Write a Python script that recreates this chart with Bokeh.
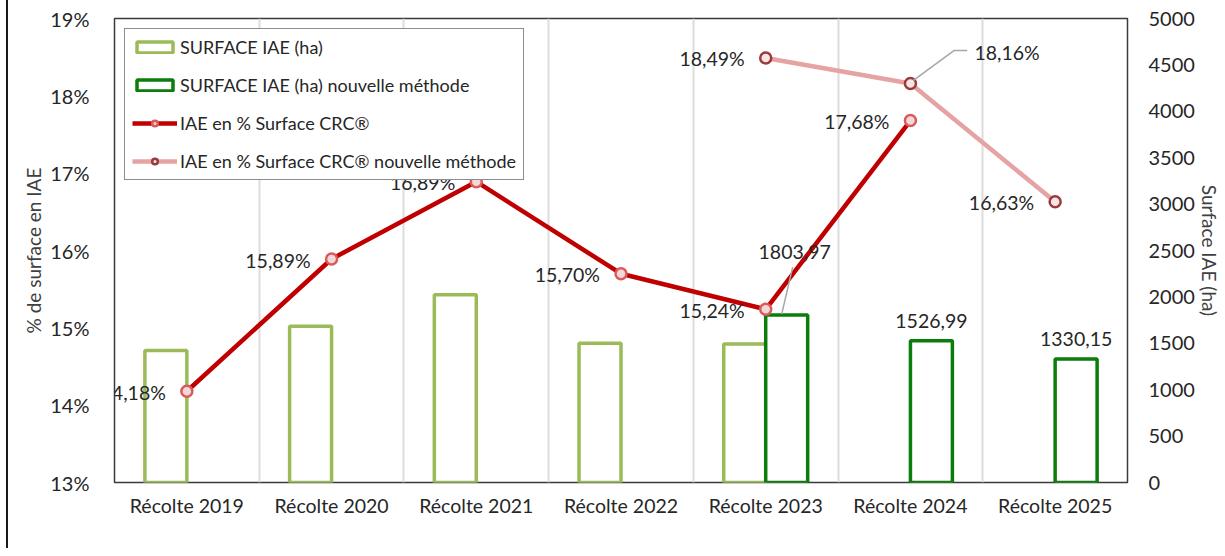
from bokeh.plotting import figure
from bokeh.models import (Range1d, LinearAxis, FixedTicker, NumeralTickFormatter,
                          Legend, LegendItem, ColumnDataSource, Label)
from bokeh.embed import file_html
from bokeh.resources import INLINE

# ---------------- data ----------------
categories = ["Récolte 2019", "Récolte 2020", "Récolte 2021", "Récolte 2022",
              "Récolte 2023", "Récolte 2024", "Récolte 2025"]
surface_old = [1422, 1684, 2023, 1500, 1492]            # 2019-2023
surface_new = [1803.97, 1526.99, 1330.15]               # 2023-2025
pct_old = [14.18, 15.89, 16.89, 15.70, 15.24, 17.68]    # 2019-2024
pct_new = [18.49, 18.16, 16.63]                         # 2023-2025
left_ticks = [13, 14, 15, 16, 17, 18, 19]
right_ticks = [0, 500, 1000, 1500, 2000, 2500, 3000, 3500, 4000, 4500, 5000]

FONT = "Lato"
TXT = "#262626"

n = len(categories)
centers = [i + 0.5 for i in range(n)]
idx_old_bar = list(range(0, 5))
idx_new_bar = list(range(4, 7))
idx_old_pct = list(range(0, 6))
idx_new_pct = list(range(4, 7))

p = figure(width=1215, height=548, output_backend="svg", toolbar_location=None,
           x_range=Range1d(0, n), y_range=Range1d(0.13, 0.19),
           min_border_left=106, min_border_right=92, min_border_top=18,
           min_border_bottom=66)
p.extra_y_ranges = {"ha": Range1d(0, 5000)}
p.styles = {"margin-left": "6px", "border-left": "2px solid #1a1a1a"}

p.outline_line_color = "#3a3a3a"
p.outline_line_width = 1.5
p.background_fill_color = "white"
p.border_fill_color = "white"

# grid: vertical lines between categories only
p.ygrid.visible = False
p.xgrid.ticker = FixedTicker(ticks=list(range(1, n)))
p.xgrid.grid_line_color = "#dcdcdc"
p.xgrid.grid_line_width = 2

# x axis
xa = p.xaxis[0]
xa.ticker = FixedTicker(ticks=centers)
xa.major_label_overrides = {c: lab for c, lab in zip(centers, categories)}
xa.axis_line_color = None
xa.major_tick_line_color = None
xa.minor_tick_line_color = None
xa.major_label_text_font = FONT
xa.major_label_text_font_size = "19.5px"
xa.major_label_text_color = TXT
xa.major_label_standoff = 5

# left axis
ya = p.yaxis[0]
ya.ticker = FixedTicker(ticks=[t / 100 for t in left_ticks])
ya.formatter = NumeralTickFormatter(format="0%")
ya.axis_label = "% de surface en IAE"
ya.axis_label_text_font = FONT
ya.axis_label_text_font_style = "normal"
ya.axis_label_text_font_size = "19px"
ya.axis_label_text_color = "#404040"
ya.axis_label_standoff = 2
ya.axis_line_color = None
ya.major_tick_line_color = None
ya.minor_tick_line_color = None
ya.major_label_text_font = FONT
ya.major_label_text_font_size = "20px"
ya.major_label_text_color = TXT
ya.major_label_standoff = 19

# right axis
ra = LinearAxis(y_range_name="ha", ticker=FixedTicker(ticks=right_ticks),
                axis_label="Surface IAE (ha)")
ra.axis_label_text_font = FONT
ra.axis_label_text_font_style = "normal"
ra.axis_label_text_font_size = "19px"
ra.axis_label_text_color = "#404040"
ra.axis_label_standoff = 0
ra.axis_line_color = None
ra.major_tick_line_color = None
ra.minor_tick_line_color = None
ra.major_label_text_font = FONT
ra.major_label_text_font_size = "20px"
ra.major_label_text_color = TXT
ra.major_label_standoff = 15
p.add_layout(ra, "right")

# ---------------- bars ----------------
BW = 0.29
src_old_bar = ColumnDataSource(dict(x=[centers[i] - BW / 2 for i in idx_old_bar], top=surface_old))
src_new_bar = ColumnDataSource(dict(x=[centers[i] + BW / 2 for i in idx_new_bar], top=surface_new))
r_bar_old = p.vbar(x="x", top="top", bottom=0, width=BW, source=src_old_bar, y_range_name="ha",
                   fill_color="white", line_color="#9BBB59", line_width=3.5)
r_bar_new = p.vbar(x="x", top="top", bottom=0, width=BW, source=src_new_bar, y_range_name="ha",
                   fill_color="white", line_color="#0B7D0B", line_width=3.5)

# ---------------- lines ----------------
xo = [centers[i] for i in idx_old_pct]
yo = [v / 100 for v in pct_old]
xn = [centers[i] for i in idx_new_pct]
yn = [v / 100 for v in pct_new]

r_line_new = p.line(xn, yn, line_color="#E6A3A3", line_width=4.5)
r_pt_new = p.scatter(xn, yn, marker="circle", size=11, line_color="#9B3A3A",
                     line_width=2.5, fill_color="#F7E4E4")
r_line_old = p.line(xo, yo, line_color="#C00000", line_width=4.5)
r_pt_old = p.scatter(xo, yo, marker="circle", size=11, line_color="#D95A5A",
                     line_width=2.5, fill_color="#F4D7D7")

# ---------------- leader lines ----------------
px_x = 1017 / n          # pixels per category unit
px_y = 464 / 0.06        # pixels per percent-fraction unit
px_h = 464 / 5000        # pixels per hectare
# 18,16% leader (second point of new method)
lx0, ly0 = xn[1], yn[1]
p.line([lx0 + 3 / px_x, lx0 + 44 / px_x, lx0 + 57 / px_x],
       [ly0 + 3 / px_y, ly0 + 33 / px_y, ly0 + 33 / px_y],
       line_color="#A6A6A6", line_width=1.5)
# 1803,97 leader (first new bar)
bx0, by0 = src_new_bar.data["x"][0], surface_new[0]
p.line([bx0 - 5 / px_x, bx0 + 6 / px_x], [by0 + 1 / px_h, by0 + 48 / px_h],
       y_range_name="ha", line_color="#A6A6A6", line_width=1.5)

# ---------------- data labels ----------------
def fmt_pct(v):
    return f"{v:.2f}".replace(".", ",") + "%"

def fmt_ha(v):
    return f"{v:.2f}".replace(".", ",")

LBL = "19.5px"

def add_label(x, y, t, dx, dy, align, rng="default", level="annotation"):
    p.add_layout(Label(x=x, y=y, text=t, x_offset=dx, y_offset=dy,
                       text_align=align, text_baseline="middle", y_range_name=rng,
                       text_font=FONT, text_font_size=LBL, text_color=TXT,
                       level=level))

left_x = xo + xn[:1] + xn[2:]
left_y = yo + yn[:1] + yn[2:]
left_t = [fmt_pct(v) for v in pct_old] + [fmt_pct(pct_new[0]), fmt_pct(pct_new[2])]
for k, (x, y, t) in enumerate(zip(left_x, left_y, left_t)):
    add_label(x, y, t, -21, -1, "right", level="overlay" if k == 0 else "annotation")
add_label(xn[1], yn[1], fmt_pct(pct_new[1]), 64, 31, "left")
add_label(src_new_bar.data["x"][0], surface_new[0], fmt_ha(surface_new[0]), 8, 63,
          "center", "ha")
for x, y in zip(src_new_bar.data["x"][1:], surface_new[1:]):
    add_label(x, y, fmt_ha(y), 0, 20, "center", "ha")

# ---------------- legend ----------------
legend = Legend(items=[
    LegendItem(label="SURFACE IAE (ha)", renderers=[r_bar_old]),
    LegendItem(label="SURFACE IAE (ha) nouvelle méthode", renderers=[r_bar_new]),
    LegendItem(label="IAE en % Surface CRC®", renderers=[r_line_old, r_pt_old]),
    LegendItem(label="IAE en % Surface CRC® nouvelle méthode", renderers=[r_line_new, r_pt_new]),
], location="top_left")
legend.margin = 10
legend.padding = 7
legend.spacing = 16
legend.glyph_width = 45
legend.glyph_height = 14
legend.label_standoff = 3
legend.label_text_font = FONT
legend.label_text_font_size = "18px"
legend.label_text_color = TXT
legend.border_line_color = "#1a1a1a"
legend.border_line_width = 1.5
legend.background_fill_color = "white"
legend.background_fill_alpha = 1
p.add_layout(legend, "center")

open("out.html", "w").write(file_html(p, INLINE))
